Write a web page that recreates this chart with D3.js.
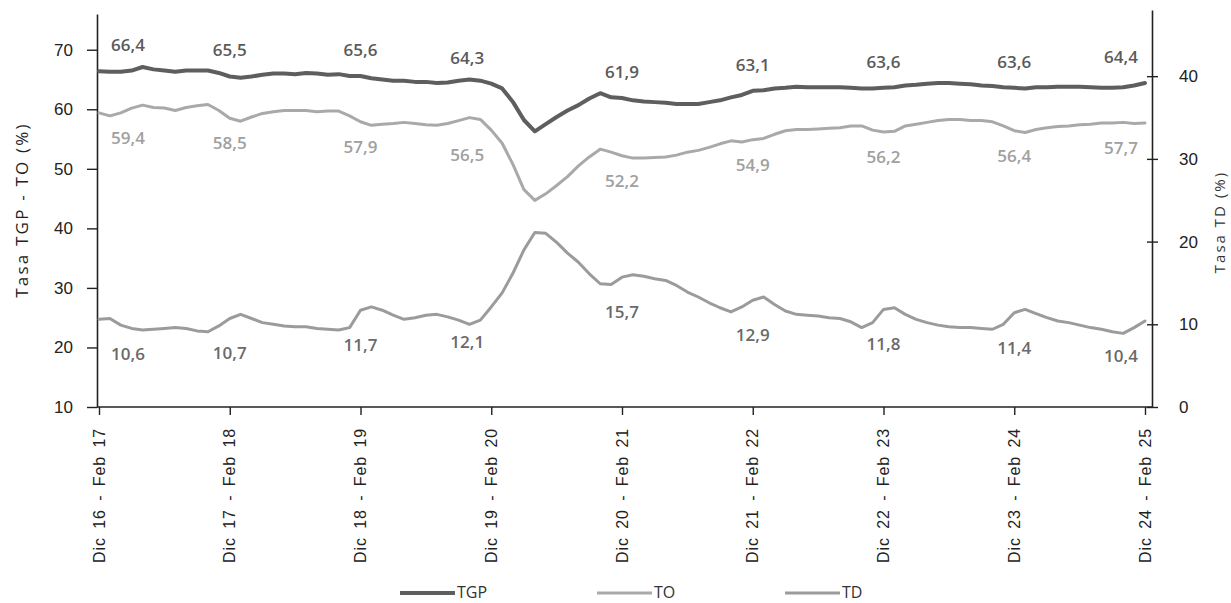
<!DOCTYPE html>
<html>
<head>
<meta charset="utf-8">
<script src="https://cdn.jsdelivr.net/npm/d3@7"></script>
<style>
  html, body { margin: 0; padding: 0; background: #fff; }
  svg { display: block; font-family: 'Open Sans', sans-serif; }
</style>
</head>
<body>
<svg id="chart" width="1231" height="603"></svg>
<script>
// rolling quarter Dic-Feb, monthly from Dic 16 - Feb 17 to Dic 24 - Feb 25
const tickLabels = ['Dic 16 - Feb 17', 'Dic 17 - Feb 18', 'Dic 18 - Feb 19', 'Dic 19 - Feb 20',
  'Dic 20 - Feb 21', 'Dic 21 - Feb 22', 'Dic 22 - Feb 23', 'Dic 23 - Feb 24', 'Dic 24 - Feb 25']

const tgp = [66.4,66.3,66.3,66.5,67.1,66.7,66.5,66.3,66.5,66.5,66.5,66.1,65.5,
  65.3,65.5,65.8,66.0,66.0,65.9,66.1,66.0,65.8,65.9,65.6,65.6,
  65.2,65.0,64.8,64.8,64.6,64.6,64.4,64.5,64.8,65.0,64.8,64.3,
  63.5,61.2,58.2,56.3,57.5,58.7,59.8,60.7,61.8,62.7,62.0,61.9,
  61.5,61.3,61.2,61.1,60.9,60.9,60.9,61.2,61.5,62.0,62.4,63.1,
  63.2,63.5,63.6,63.8,63.7,63.7,63.7,63.7,63.6,63.5,63.5,63.6,
  63.7,64.0,64.1,64.3,64.4,64.4,64.3,64.2,64.0,63.9,63.7,63.6,
  63.5,63.7,63.7,63.8,63.8,63.8,63.7,63.6,63.6,63.7,64.0,64.4]

const to = [59.4,58.9,59.4,60.2,60.7,60.3,60.2,59.8,60.3,60.6,60.8,59.8,58.5,
  58.0,58.7,59.3,59.6,59.8,59.8,59.8,59.6,59.7,59.7,58.9,57.9,
  57.3,57.5,57.6,57.8,57.6,57.4,57.3,57.6,58.1,58.6,58.3,56.5,
  54.3,50.7,46.5,44.7,45.8,47.2,48.7,50.5,52.0,53.3,52.8,52.2,
  51.8,51.8,51.9,52.0,52.3,52.8,53.1,53.6,54.2,54.7,54.5,54.9,
  55.1,55.8,56.4,56.6,56.6,56.7,56.8,56.9,57.2,57.2,56.5,56.2,
  56.3,57.2,57.5,57.8,58.1,58.3,58.3,58.1,58.1,57.9,57.2,56.4,
  56.1,56.6,56.9,57.1,57.2,57.4,57.5,57.7,57.7,57.8,57.6,57.7]

const td = [10.6,10.7,9.9,9.5,9.3,9.4,9.5,9.6,9.5,9.2,9.1,9.8,10.7,
  11.2,10.7,10.2,10.0,9.8,9.7,9.7,9.5,9.4,9.3,9.6,11.7,
  12.1,11.7,11.1,10.6,10.8,11.1,11.2,10.9,10.5,10.0,10.5,12.1,
  13.8,16.2,19.0,21.1,21.0,19.9,18.6,17.5,16.1,14.9,14.8,15.7,
  16.0,15.8,15.5,15.3,14.7,13.9,13.3,12.6,12.0,11.5,12.1,12.9,
  13.3,12.4,11.6,11.2,11.1,11.0,10.8,10.7,10.3,9.6,10.2,11.8,
  12.0,11.2,10.6,10.2,9.9,9.7,9.6,9.6,9.5,9.4,10.0,11.4,
  11.8,11.3,10.8,10.4,10.2,9.9,9.6,9.4,9.1,8.9,9.6,10.4]

const leftTicks = [10, 20, 30, 40, 50, 60, 70]
const rightTicks = [0, 10, 20, 30, 40]

const fmt = v => d3.format('.1f')(v).replace('.', ',')

const $svg = d3.select('#chart')

const scaleX = d3.scaleLinear().domain([0, tgp.length - 1]).range([99, 1145])
const scaleL = d3.scaleLinear().domain([10, 76]).range([407, 14])
const scaleR = d3.scaleLinear().domain([0, 48]).range([407, 10])

const xLeft = 97
const xRight = 1152
const yBottom = 407

// axes
const $axisL = $svg.append('g')
  .attr('transform', `translate(${xLeft},0)`)
  .call(d3.axisLeft(scaleL).tickValues(leftTicks).tickSize(10).tickSizeOuter(0).tickPadding(14))

const $axisR = $svg.append('g')
  .attr('transform', `translate(${xRight},0)`)
  .call(d3.axisRight(scaleR).tickValues(rightTicks).tickSize(6).tickSizeOuter(0).tickPadding(21))
$axisR.selectAll('.tick line').attr('x1', -5)

const tickIdx = tickLabels.map((d, i) => i * 12)
const $axisX = $svg.append('g')
  .attr('transform', `translate(0,${yBottom})`)
  .call(d3.axisBottom(scaleX).tickValues(tickIdx).tickSize(8).tickFormat(''))
$axisX.select('.domain').remove()
$axisX.append('line')
  .attr('x1', xLeft).attr('x2', xRight)
  .attr('stroke', '#222').attr('stroke-width', 1.6)

$axisX.selectAll('.tick')
  .append('text')
  .attr('transform', 'translate(5,21) rotate(-90)')
  .attr('text-anchor', 'end')
  .attr('fill', '#222')
  .style('font-size', '16px')
  .style('letter-spacing', '0.9px')
  .style('word-spacing', '3px')
  .text((d, i) => tickLabels[i])

$svg.selectAll('.domain').attr('stroke', '#222').attr('stroke-width', 1.6)
$svg.selectAll('.tick line').attr('stroke', '#222').attr('stroke-width', 1.4)
$axisL.selectAll('.tick text').attr('fill', '#222').style('font-size', '17px')
$axisR.selectAll('.tick text').attr('fill', '#222').style('font-size', '17px')

// axis titles
$svg.append('text')
  .attr('transform', 'translate(28,210) rotate(-90)')
  .attr('text-anchor', 'middle')
  .attr('fill', '#222')
  .style('font-size', '17px')
  .style('letter-spacing', '2.2px')
  .text('Tasa TGP - TO (%)')

$svg.append('text')
  .attr('transform', 'translate(1225,222) rotate(-90)')
  .attr('text-anchor', 'middle')
  .attr('fill', '#333')
  .style('font-size', '15px')
  .style('letter-spacing', '2px')
  .text('Tasa TD (%)')

// series
const series = [
  { key: 'TGP', values: tgp, scale: scaleL, color: '#5e5e5e', width: 4, labelColor: '#5a5a5a', dy: -26 },
  { key: 'TO', values: to, scale: scaleL, color: '#a9a9a9', width: 3, labelColor: '#a0a0a0', dy: 25 },
  { key: 'TD', values: td, scale: scaleR, color: '#9b9b9b', width: 3, labelColor: '#6a6a6a', dy: 35 }
]

const $gViz = $svg.append('g')

series.forEach(s => {
  const line = d3.line()
    .x((d, i) => scaleX(i))
    .y(d => s.scale(d))

  $gViz.append('path')
    .datum(s.values)
    .attr('d', line)
    .attr('fill', 'none')
    .attr('stroke', s.color)
    .attr('stroke-width', s.width)
    .attr('stroke-linejoin', 'round')
    .attr('stroke-linecap', 'round')

  // value labels every December
  const labelShift = i => i === 0 ? 29 : (i === 36 || i === 96 ? -24 : 0)
  $gViz.selectAll(null)
    .data(tickIdx)
    .enter()
    .append('text')
    .attr('x', i => scaleX(i) + labelShift(i))
    .attr('y', i => s.scale(s.values[i]) + s.dy)
    .attr('dy', '0.35em')
    .attr('text-anchor', 'middle')
    .attr('fill', s.labelColor)
    .style('font-size', '17px')
    .style('font-weight', 600)
    .text(i => fmt(s.values[i]))
})

// legend
const legendX = [400, 597, 785]
const $legend = $svg.append('g')
series.forEach((s, k) => {
  $legend.append('line')
    .attr('x1', legendX[k]).attr('x2', legendX[k] + 55)
    .attr('y1', 593).attr('y2', 593)
    .attr('stroke', s.color)
    .attr('stroke-width', s.width)
  $legend.append('text')
    .attr('x', legendX[k] + 57)
    .attr('y', 592)
    .attr('dy', '0.35em')
    .attr('fill', '#333')
    .style('font-size', '16px')
    .text(s.key)
})
</script>
</body>
</html>
